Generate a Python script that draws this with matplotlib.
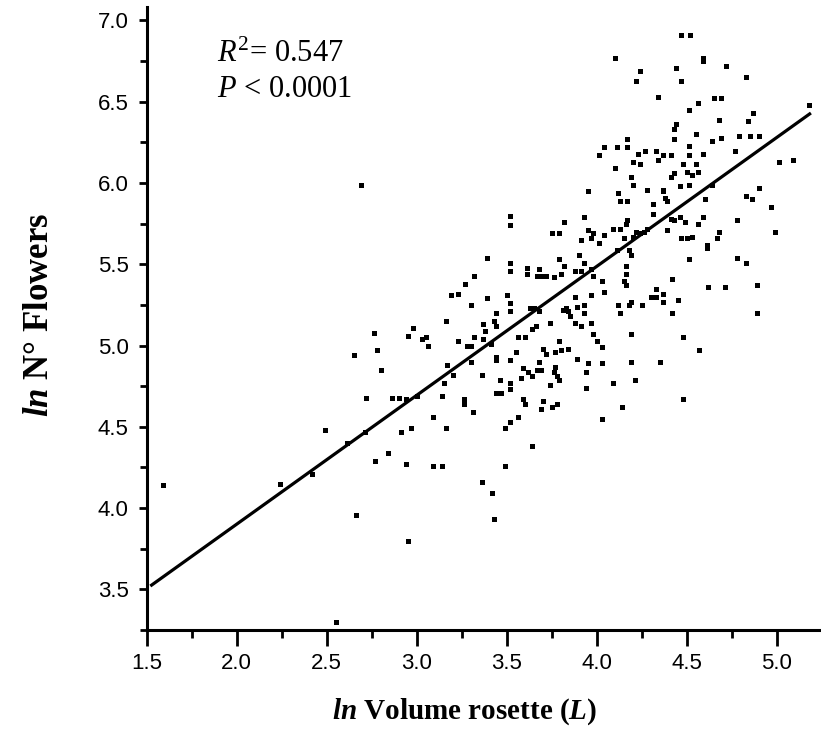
import numpy as np
import matplotlib
matplotlib.use('Agg')
import matplotlib.pyplot as plt
from matplotlib.ticker import MultipleLocator, FormatStrFormatter

plt.rcParams['mathtext.fontset'] = 'custom'
plt.rcParams['mathtext.rm'] = 'Liberation Serif'
plt.rcParams['mathtext.it'] = 'Liberation Serif:italic'
plt.rcParams['mathtext.bf'] = 'Liberation Serif:bold'
plt.rcParams['mathtext.bfit'] = 'Liberation Serif:italic:bold'

# ln volume rosette (L) vs ln number of flowers
vol = np.array([
    1.59, 2.24, 2.42, 2.49, 2.55, 2.69,
    2.77, 2.84, 2.94, 3.09, 3.14, 3.36, 2.66, 2.95,
    3.49, 3.42, 3.43,
    3.32, 3.27, 3.23, 3.19, 3.30, 3.16, 2.76, 2.98, 2.95, 3.03, 3.05, 3.06, 3.23,
    3.32, 2.65, 2.78, 3.28, 3.30, 2.80, 3.17, 3.30, 3.20, 3.15, 2.72, 2.86, 2.90,
    2.94, 3.00, 3.14, 3.26, 3.26, 3.31, 3.09, 2.71, 2.91, 2.97, 3.16, 2.61,
    4.10, 4.24, 4.22, 4.17, 4.04, 4.11, 4.17, 4.01, 4.23,
    4.20, 4.10, 4.19, 4.20, 3.95, 4.12, 4.13, 4.17, 3.52, 3.52, 3.93, 3.82, 4.17,
    4.16, 3.75, 3.79, 3.95, 3.98, 4.04, 4.09, 4.13, 3.91, 3.97, 4.01, 4.15, 4.20,
    4.22, 3.39, 3.52, 3.52, 3.79, 3.82, 3.90, 3.93, 3.61, 3.61, 3.68, 3.67, 3.69,
    3.72, 3.76, 3.80, 3.88, 3.91, 3.97, 3.98, 4.03, 4.04, 4.16, 4.16, 4.15, 4.16,
    4.11, 4.18, 4.19, 3.39, 3.50, 3.52, 3.88, 3.97, 4.12, 4.18, 4.19, 3.63, 3.65,
    3.83,
    3.52, 3.68, 3.44, 3.37, 3.43, 3.44, 3.38, 3.81, 3.84, 3.85, 3.89, 3.93, 3.93,
    3.88, 3.91, 3.74, 3.97, 4.13, 3.37, 3.41, 3.56, 3.60, 3.64, 3.66, 3.98, 4.00,
    3.79, 4.19, 3.70, 3.72, 3.77, 3.80, 3.84, 3.44, 3.44, 3.52, 3.55, 3.68, 3.89,
    3.95, 4.03, 4.03, 3.59, 3.62, 3.64, 3.67, 3.69, 3.76, 3.77, 3.78, 3.79, 3.94,
    3.58, 3.36, 3.46, 3.52, 3.74, 3.94, 4.09, 4.21, 4.19, 3.44, 3.47, 3.52, 3.59,
    3.60, 3.70, 3.69, 3.75, 3.78, 4.14, 4.03, 3.56, 3.52, 3.49, 3.64,
    4.47, 4.52, 4.59, 4.59, 4.44, 4.72, 4.47, 4.83, 4.34, 4.65, 4.69, 4.56, 4.51,
    4.87, 4.84, 4.68, 5.18, 4.44, 4.43, 4.55, 4.43, 4.64, 4.69, 4.79, 4.85, 4.90,
    4.77, 4.27, 4.33, 4.34, 4.37, 4.41, 4.51, 4.51, 4.59, 4.24, 4.48, 4.55, 4.43,
    4.41, 4.50, 4.53, 4.56, 5.01, 5.09, 4.28, 4.37, 4.46, 4.51, 4.64, 4.90,
    4.37, 4.38, 4.39, 4.83, 4.86, 4.97, 4.60, 4.31, 4.31, 4.41, 4.43, 4.46, 4.49,
    4.56, 4.59, 4.78, 4.99, 4.28, 4.26, 4.24, 4.39, 4.47, 4.50, 4.53, 4.68, 4.67,
    4.61, 4.61, 4.51, 4.78, 4.83, 4.42, 4.33, 4.30, 4.33, 4.37, 4.37, 4.25, 4.45,
    4.42, 4.62, 4.71, 4.89, 4.89, 4.48, 4.57, 4.35,
    4.48,
])
flowers = np.array([
    4.14, 4.15, 4.21, 4.48, 3.30, 5.99,
    4.29, 4.34, 4.27, 4.26, 4.26, 4.16, 3.96, 3.80,
    4.26, 4.09, 3.93,
    5.43, 5.38, 5.32, 5.31, 5.25, 5.15, 5.08, 5.11, 5.06, 5.04, 5.05, 5.00, 5.03,
    5.05, 4.94, 4.97, 5.00, 5.00, 4.85, 4.88, 4.90, 4.82, 4.77, 4.68, 4.68, 4.68,
    4.67, 4.69, 4.69, 4.67, 4.64, 4.59, 4.56, 4.47, 4.47, 4.49, 4.49, 4.40,
    6.77, 6.69, 6.63, 6.27, 6.22, 6.22, 6.22, 6.17, 6.18,
    6.13, 6.09, 6.04, 5.99, 5.95, 5.94, 5.89, 5.89, 5.80, 5.74, 5.79, 5.76, 5.77,
    5.75, 5.69, 5.69, 5.71, 5.69, 5.68, 5.72, 5.72, 5.65, 5.66, 5.63, 5.66, 5.67,
    5.70, 5.54, 5.51, 5.46, 5.53, 5.49, 5.56, 5.51, 5.48, 5.44, 5.47, 5.43, 5.43,
    5.43, 5.42, 5.44, 5.46, 5.46, 5.47, 5.43, 5.40, 5.33, 5.49, 5.44, 5.40, 5.37,
    5.59, 5.59, 5.56, 5.29, 5.31, 5.26, 5.30, 5.31, 5.25, 5.25, 5.27, 5.23, 5.23,
    5.23,
    5.21, 5.21, 5.20, 5.13, 5.15, 5.12, 5.09, 5.22, 5.21, 5.18, 5.24, 5.25, 5.20,
    5.14, 5.12, 5.14, 5.14, 5.20, 5.04, 5.01, 5.05, 5.05, 5.10, 5.12, 5.07, 5.03,
    5.03, 5.07, 4.98, 4.95, 4.96, 4.97, 4.98, 4.93, 4.91, 4.91, 4.96, 4.90, 4.92,
    4.89, 4.99, 4.89, 4.86, 4.84, 4.81, 4.85, 4.85, 4.84, 4.87, 4.81, 4.79, 4.84,
    4.80, 4.82, 4.79, 4.77, 4.76, 4.74, 4.77, 4.79, 4.90, 4.71, 4.71, 4.73, 4.67,
    4.64, 4.66, 4.61, 4.62, 4.64, 4.62, 4.55, 4.56, 4.53, 4.49, 4.38,
    6.91, 6.91, 6.77, 6.75, 6.71, 6.72, 6.63, 6.65, 6.53, 6.52, 6.52, 6.49, 6.45,
    6.43, 6.38, 6.39, 6.48, 6.36, 6.33, 6.30, 6.27, 6.26, 6.28, 6.29, 6.29, 6.29,
    6.20, 6.20, 6.20, 6.14, 6.17, 6.17, 6.23, 6.17, 6.18, 6.12, 6.12, 6.12, 6.06,
    6.04, 6.07, 6.05, 6.07, 6.13, 6.14, 5.96, 5.96, 5.98, 5.99, 5.99, 5.97,
    5.95, 5.91, 5.89, 5.92, 5.90, 5.85, 5.90, 5.87, 5.81, 5.78, 5.77, 5.79, 5.76,
    5.75, 5.79, 5.77, 5.70, 5.72, 5.70, 5.69, 5.71, 5.66, 5.66, 5.67, 5.70, 5.66,
    5.62, 5.60, 5.53, 5.54, 5.51, 5.41, 5.35, 5.30, 5.30, 5.32, 5.27, 5.25, 5.28,
    5.20, 5.36, 5.36, 5.37, 5.20, 5.05, 4.97, 4.90,
    4.67,
])

# regression line
fit_slope = 0.793
fit_intercept = 2.315
fit_x = [1.52, 5.19]
r2_value = '0.547'
p_value = '0.0001'

fig = plt.figure(figsize=(8.21, 7.55), dpi=100)
ax = fig.add_axes([0.1787, 0.1656, 0.8213, 0.8245])

ax.plot(vol, flowers, 's', color='black', ms=3.6, mew=0)
xs = np.array(fit_x)
ax.plot(xs, fit_intercept + fit_slope * xs, color='black', lw=2.3,
        solid_capstyle='butt')

ax.set_xlim(1.5, 5.246)
ax.set_ylim(3.25, 7.08)
for s in ['top', 'right']:
    ax.spines[s].set_visible(False)
for s in ['left', 'bottom']:
    ax.spines[s].set_linewidth(2.2)

ax.xaxis.set_major_locator(MultipleLocator(0.5))
ax.xaxis.set_minor_locator(MultipleLocator(0.25))
ax.yaxis.set_major_locator(MultipleLocator(0.5))
ax.yaxis.set_minor_locator(MultipleLocator(0.25))
ax.xaxis.set_major_formatter(FormatStrFormatter('%.1f'))
ax.yaxis.set_major_formatter(FormatStrFormatter('%.1f'))
ax.tick_params(axis='both', labelsize=16, labelfontfamily='Liberation Sans')
ax.tick_params(axis='x', which='major', direction='out', length=11.5, width=2, pad=5)
ax.tick_params(axis='x', which='minor', direction='out', length=6, width=2)
ax.tick_params(axis='y', which='major', direction='out', length=6, width=2, pad=7)
ax.tick_params(axis='y', which='minor', direction='out', length=5, width=2)

ax.text(1.89, 6.745, r'$R^{\mathrm{2}}$= ' + r2_value, fontsize=22,
        family='Liberation Serif', va='baseline')
ax.text(1.89, 6.53, r'$P$ < ' + p_value, fontsize=22,
        family='Liberation Serif', va='baseline')

fig.text(40 / 821, 1 - 315 / 755, r'$\mathbfit{ln}$ N° Flowers', rotation=90,
         fontsize=25, fontweight='bold', family='Liberation Serif',
         ha='center', va='center')
fig.text(465 / 821, 1 - 712 / 755, r'$\mathbfit{ln}$ Volume rosette ($\mathbfit{L}$)',
         fontsize=21, fontweight='bold', family='Liberation Serif',
         ha='center', va='center')

fig.savefig('out.png', dpi=100)
